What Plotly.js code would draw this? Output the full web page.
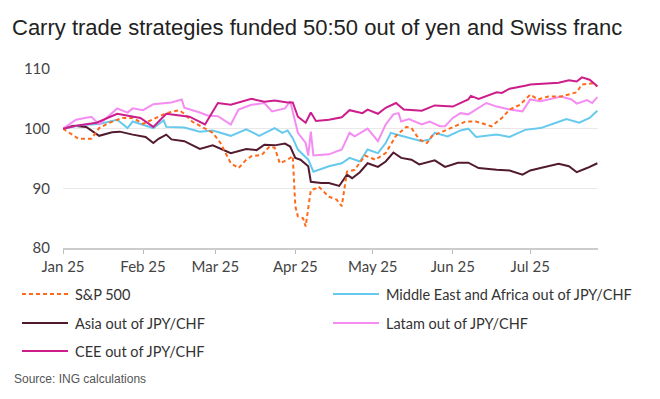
<!DOCTYPE html>
<html>
<head>
<meta charset="utf-8">
<script src="https://cdn.plot.ly/plotly-3.0.1.min.js"></script>
<style>
html,body{margin:0;padding:0;background:#ffffff;}
#chart{width:660px;height:399px;}
</style>
</head>
<body>
<div id="chart"></div>
<script>
// ---------- Data ----------
const seriesNames = [
  "S&P 500",
  "Middle East and Africa out of JPY/CHF",
  "Asia out of JPY/CHF",
  "Latam out of JPY/CHF",
  "CEE out of JPY/CHF"
];

const spDates = ["2025-01-01","2025-01-07","2025-01-12","2025-01-15","2025-01-19","2025-01-24","2025-01-28","2025-02-01","2025-02-05","2025-02-10","2025-02-15","2025-02-17","2025-02-20","2025-02-24","2025-02-28","2025-03-03","2025-03-07","2025-03-10","2025-03-13","2025-03-15","2025-03-19","2025-03-22","2025-03-24","2025-03-26","2025-03-29","2025-03-31","2025-04-01","2025-04-02","2025-04-04","2025-04-05","2025-04-07","2025-04-09","2025-04-10","2025-04-14","2025-04-17","2025-04-19","2025-04-21","2025-04-24","2025-04-28","2025-05-02","2025-05-06","2025-05-10","2025-05-14","2025-05-16","2025-05-19","2025-05-22","2025-05-24","2025-05-28","2025-06-01","2025-06-06","2025-06-10","2025-06-14","2025-06-16","2025-06-20","2025-06-23","2025-06-27","2025-06-29","2025-07-01","2025-07-04","2025-07-08","2025-07-13","2025-07-19","2025-07-21","2025-07-25","2025-07-27"];
const spValues = [100,98.3,98.3,100.1,101.0,101.8,101.8,100.8,101.6,102.6,103.1,102.5,101.2,100.3,99.3,97.6,94.2,93.4,94.8,95.4,95.6,97.0,96.8,94.2,94.8,95.4,87.0,85.3,85.0,83.6,89.7,90.0,90.3,88.6,88.1,87.0,92.8,93.1,95.5,94.8,95.9,98.8,100.3,100.1,98.2,97.6,98.8,99.5,100.3,101.2,101.2,100.7,100.4,101.8,103.2,104.0,104.9,105.7,104.9,105.4,105.4,106.1,107.4,107.6,107.1];

const meaDates = ["2025-01-01","2025-01-08","2025-01-15","2025-01-22","2025-01-26","2025-01-28","2025-02-05","2025-02-09","2025-02-10","2025-02-17","2025-02-23","2025-02-28","2025-03-07","2025-03-13","2025-03-18","2025-03-24","2025-03-27","2025-03-29","2025-03-31","2025-04-02","2025-04-06","2025-04-08","2025-04-14","2025-04-19","2025-04-22","2025-04-26","2025-04-29","2025-05-03","2025-05-06","2025-05-08","2025-05-12","2025-05-20","2025-05-23","2025-05-25","2025-05-30","2025-06-04","2025-06-07","2025-06-10","2025-06-18","2025-06-23","2025-06-29","2025-07-05","2025-07-11","2025-07-15","2025-07-20","2025-07-24","2025-07-27"];
const meaValues = [100,100.6,100.8,101.5,100.1,101.2,100.1,101.4,100.3,100.2,99.5,99.7,98.8,99.9,98.8,100.1,99.3,99.7,98.4,96.5,94.8,92.8,93.7,94.2,95.1,94.5,96.5,95.9,97.6,99.3,98.8,97.9,98.2,99.3,98.7,99.7,100.0,98.6,99.0,98.6,99.8,100.1,101.0,101.6,101.0,101.8,103.0];

const asiaDates = ["2025-01-01","2025-01-05","2025-01-10","2025-01-14","2025-01-15","2025-01-20","2025-01-23","2025-01-28","2025-02-02","2025-02-05","2025-02-07","2025-02-10","2025-02-12","2025-02-17","2025-02-23","2025-02-28","2025-03-07","2025-03-13","2025-03-17","2025-03-20","2025-03-24","2025-03-28","2025-03-30","2025-04-01","2025-04-03","2025-04-06","2025-04-07","2025-04-11","2025-04-14","2025-04-18","2025-04-21","2025-04-23","2025-04-26","2025-04-29","2025-05-03","2025-05-06","2025-05-09","2025-05-12","2025-05-16","2025-05-19","2025-05-25","2025-05-29","2025-06-03","2025-06-07","2025-06-11","2025-06-18","2025-06-23","2025-06-28","2025-07-01","2025-07-05","2025-07-12","2025-07-16","2025-07-19","2025-07-23","2025-07-27"];
const asiaValues = [100,100.5,100.3,99.0,98.8,99.4,99.5,99.0,98.6,97.6,98.3,99.0,98.2,97.9,96.6,97.2,95.9,96.6,96.4,97.3,97.2,97.5,97.0,95.1,94.8,93.7,91.1,90.9,90.9,90.4,92.3,91.7,92.7,94.2,93.6,94.5,96.0,95.1,94.8,94.0,94.7,93.6,94.3,94.3,93.4,93.1,93.0,92.3,93.0,93.4,94.1,93.7,92.7,93.4,94.2];

const latamDates = ["2025-01-01","2025-01-06","2025-01-12","2025-01-15","2025-01-22","2025-01-26","2025-01-28","2025-02-01","2025-02-05","2025-02-10","2025-02-12","2025-02-16","2025-02-17","2025-02-23","2025-02-26","2025-03-02","2025-03-07","2025-03-10","2025-03-15","2025-03-20","2025-03-23","2025-03-28","2025-03-30","2025-04-02","2025-04-05","2025-04-06","2025-04-07","2025-04-08","2025-04-14","2025-04-19","2025-04-22","2025-04-24","2025-04-29","2025-05-03","2025-05-06","2025-05-09","2025-05-11","2025-05-12","2025-05-15","2025-05-20","2025-05-23","2025-05-27","2025-05-29","2025-06-01","2025-06-04","2025-06-07","2025-06-10","2025-06-14","2025-06-18","2025-06-23","2025-06-28","2025-07-01","2025-07-05","2025-07-13","2025-07-17","2025-07-19","2025-07-23","2025-07-25","2025-07-27"];
const latamValues = [100,101.5,102.0,100.7,103.4,102.7,103.4,103.1,104.1,104.4,104.4,104.9,103.5,102.7,102.2,102.1,100.7,103.2,104.0,104.3,102.9,103.4,104.6,99.3,97.6,95.5,99.5,95.5,95.7,96.5,99.3,98.7,100.0,97.9,100.7,102.4,102.6,101.2,101.6,100.7,101.2,100.4,100.4,101.8,102.6,102.4,103.2,104.3,103.7,103.2,102.9,104.9,104.6,105.4,104.9,104.2,104.8,104.3,105.3];

const ceeDates = ["2025-01-01","2025-01-06","2025-01-14","2025-01-22","2025-01-31","2025-02-05","2025-02-10","2025-02-15","2025-02-19","2025-02-25","2025-03-02","2025-03-07","2025-03-15","2025-03-20","2025-03-24","2025-03-29","2025-03-31","2025-04-02","2025-04-05","2025-04-07","2025-04-09","2025-04-14","2025-04-19","2025-04-22","2025-04-27","2025-04-29","2025-05-03","2025-05-06","2025-05-10","2025-05-13","2025-05-20","2025-05-25","2025-06-01","2025-06-07","2025-06-08","2025-06-11","2025-06-18","2025-06-20","2025-06-23","2025-06-29","2025-07-01","2025-07-12","2025-07-16","2025-07-19","2025-07-21","2025-07-24","2025-07-27"];
const ceeValues = [100,100.5,101.0,102.5,101.8,100.3,102.5,102.2,102.0,100.7,104.3,104.0,105.0,104.5,104.7,104.4,104.4,102.0,101.0,102.7,101.3,101.5,101.9,103.1,102.6,103.2,102.5,103.5,104.3,103.2,103.0,103.9,103.7,104.9,105.5,105.0,106.1,106.0,106.7,107.2,107.4,107.7,108.1,107.9,108.6,108.2,107.1];

const monthTickVals = ["2025-01-01","2025-02-01","2025-03-01","2025-04-01","2025-05-01","2025-06-01","2025-07-01"];
const monthTickText = ["Jan 25","Feb 25","Mar 25","Apr 25","May 25","Jun 25","Jul 25"];
const yTickVals = [80, 90, 100, 110];

// ---------- Styles ----------
const colors = ["#ff6a1a", "#66c9ee", "#521a2e", "#f58cf2", "#cc1d8b"];
const dashes = ["dash", "solid", "solid", "solid", "solid"];
const xSets = [spDates, meaDates, asiaDates, latamDates, ceeDates];
const ySets = [spValues, meaValues, asiaValues, latamValues, ceeValues];
const drawOrder = [2, 1, 3, 0, 4];

const W = 660, H = 399;
const M = {l: 63, r: 62, t: 69, b: 151};
const plotW = W - M.l - M.r, plotH = H - M.t - M.b;
const pxX = px => (px - M.l) / plotW;
const pxY = py => (H - M.b - py) / plotH;

const traces = drawOrder.map(i => ({
  type: "scatter",
  mode: "lines",
  name: seriesNames[i],
  x: xSets[i],
  y: ySets[i],
  line: {color: colors[i], width: 2, dash: dashes[i] === "dash" ? "4px,3px" : "solid"},
  showlegend: false,
  hoverinfo: "skip"
}));

// manual legend (2 columns, 3 rows)
const legendCols = [22, 333];
const legendRows = [294, 323, 351];
const shapes = [];
const annotations = [];
seriesNames.forEach((name, i) => {
  const col = i % 2, row = Math.floor(i / 2);
  const x0 = legendCols[col], y = legendRows[row];
  shapes.push({
    type: "line", xref: "paper", yref: "paper",
    x0: pxX(x0), x1: pxX(x0 + 46), y0: pxY(y), y1: pxY(y),
    line: {color: colors[i], width: 2, dash: dashes[i] === "dash" ? "4px,3px" : "solid"}
  });
  annotations.push({
    xref: "paper", yref: "paper", x: pxX(x0 + 51), y: pxY(y),
    xanchor: "left", yanchor: "middle", showarrow: false,
    text: name, font: {family: "Lato, 'Noto Sans', sans-serif", size: 14.5, color: "#333333"}
  });
});
annotations.push({
  xref: "paper", yref: "paper", x: pxX(12), y: pxY(379),
  xanchor: "left", yanchor: "middle", showarrow: false,
  text: "Source: ING calculations",
  font: {family: "'Liberation Sans', Arial, sans-serif", size: 12, color: "#555555"}
});

const layout = {
  width: W, height: H,
  margin: M,
  paper_bgcolor: "#ffffff",
  plot_bgcolor: "#ffffff",
  showlegend: false,
  title: {
    text: "Carry trade strategies funded 50:50 out of yen and Swiss franc",
    x: 12 / W, xref: "container", xanchor: "left",
    y: 1 - 27 / H, yref: "container", yanchor: "middle",
    font: {family: "'Liberation Sans', Arial, sans-serif", size: 22, color: "#222222"}
  },
  xaxis: {
    type: "date",
    range: ["2025-01-01", "2025-07-27 06:00"],
    tickvals: monthTickVals,
    ticktext: monthTickText,
    showgrid: false,
    zeroline: false,
    showline: true,
    linecolor: "#cccccc",
    linewidth: 2,
    ticks: "outside",
    ticklen: 4,
    tickwidth: 1,
    tickcolor: "#bbbbbb",
    tickfont: {family: "Lato, 'Noto Sans', sans-serif", size: 15, color: "#444444"},
    fixedrange: true
  },
  yaxis: {
    range: [80, 110],
    tickvals: yTickVals,
    ticktext: yTickVals.map(String),
    showgrid: true,
    gridcolor: "#e8e8e8",
    gridwidth: 1,
    zeroline: false,
    showline: false,
    ticks: "",
    ticklabelstandoff: 12,
    tickfont: {family: "Lato, 'Noto Sans', sans-serif", size: 15, color: "#444444"},
    fixedrange: true
  },
  shapes: shapes,
  annotations: annotations
};

Plotly.newPlot("chart", traces, layout, {displayModeBar: false, staticPlot: true});
</script>
</body>
</html>
